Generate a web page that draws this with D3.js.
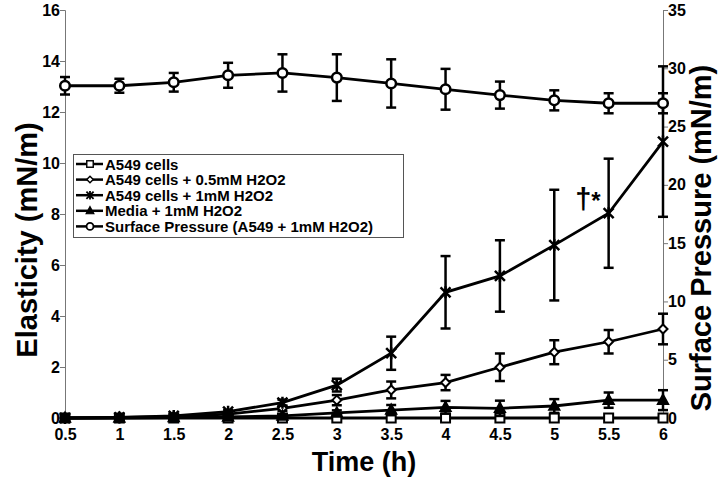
<!DOCTYPE html>
<html><head><meta charset="utf-8">
<script src="https://cdn.jsdelivr.net/npm/d3@7"></script>
<style>body{margin:0;background:#fff}svg{display:block}text{font-family:"Liberation Sans",Arial,Helvetica,sans-serif;font-weight:bold}</style>
</head><body><svg id="c" width="720" height="478"></svg>
<script>
const times = [0.5,1,1.5,2,2.5,3,3.5,4,4.5,5,5.5,6];
const xTicks = [0.5,1,1.5,2,2.5,3,3.5,4,4.5,5,5.5,6];
const yLeftTicks = [0,2,4,6,8,10,12,14,16];
const yRightTicks = [0,5,10,15,20,25,30,35];

const cellsVals = [0,0,0,0,0,0,0,0,0,0,0,0];
const cellsErr  = [0,0,0,0,0,0,0,0,0,0,0,0];
const h05Vals = [0,0.02,0.05,0.15,0.38,0.7,1.1,1.39,1.99,2.58,2.99,3.49];
const h05Err  = [0,0,0.02,0.05,0.1,0.2,0.33,0.3,0.54,0.47,0.46,0.6];
const h1Vals = [0,0.02,0.08,0.25,0.6,1.29,2.54,4.93,5.57,6.78,8.03,10.84];
const h1Err  = [0,0,0.03,0.06,0.12,0.25,0.65,1.42,1.4,2.17,2.14,2.95];
const mediaVals = [0,0,0.02,0.04,0.08,0.2,0.31,0.42,0.38,0.47,0.7,0.7];
const mediaErr  = [0,0,0,0.02,0.04,0.1,0.2,0.25,0.3,0.27,0.3,0.39];
const spVals = [28.5,28.5,28.8,29.4,29.6,29.2,28.7,28.2,27.7,27.25,27.0,27.0];
const spErr  = [0.75,0.6,0.8,1.07,1.6,2.0,2.07,1.75,1.16,0.86,0.86,0.86];

const legendLabels = ["A549 cells","A549 cells + 0.5mM H2O2","A549 cells + 1mM H2O2","Media + 1mM H2O2","Surface Pressure (A549 + 1mM H2O2)"];

const svg = d3.select("#c");
const x = d3.scaleLinear().domain([0.5,6]).range([65,663]);
const yL = d3.scaleLinear().domain([0,16]).range([418,10]);
const yR = d3.scaleLinear().domain([0,35]).range([418,10]);

// axes
const axL = svg.append("g").attr("transform","translate(65,0)").call(d3.axisLeft(yL).tickValues(yLeftTicks).tickSize(5).tickFormat(d3.format("d")));
const axR = svg.append("g").attr("transform","translate(663,0)").call(d3.axisRight(yR).tickValues(yRightTicks).tickSize(5).tickFormat(d3.format("d")));
const axB = svg.append("g").attr("transform","translate(0,418)").call(d3.axisBottom(x).tickValues(xTicks).tickSize(0).tickFormat(d=>String(d)));
[axL,axR,axB].forEach(a=>{
  a.select(".domain").attr("stroke","#777").attr("stroke-width",1);
  a.selectAll(".tick line").attr("stroke","#777");
  a.selectAll("text").attr("font-size",16).attr("fill","#000").style("font-family","Liberation Sans, Arial, sans-serif").style("font-weight","bold");
});
axB.select(".domain").attr("stroke","none");
axL.selectAll("text").attr("x",-5);
axR.selectAll("text").attr("x",5);
axB.selectAll("text").attr("y",11);

// titles
svg.append("text").attr("transform","translate(37,240) rotate(-90)").attr("text-anchor","middle").attr("font-size",29).text("Elasticity (mN/m)");
svg.append("text").attr("transform","translate(711,238) rotate(-90)").attr("text-anchor","middle").attr("font-size",29).text("Surface Pressure (mN/m)");
svg.append("text").attr("x",364).attr("y",471).attr("text-anchor","middle").attr("font-size",27).text("Time (h)");

// marker symbols
function marker(g, type, cx, cy, k){
  k = k||1;
  const s = g.append("g").attr("transform",`translate(${cx},${cy}) scale(${k})`);
  if(type==="square") s.append("rect").attr("x",-4.5).attr("y",-4.5).attr("width",9).attr("height",9).attr("fill","#fff").attr("stroke","#000").attr("stroke-width",2);
  else if(type==="diamond") s.append("path").attr("d","M0,-4.5L4.5,0L0,4.5L-4.5,0Z").attr("fill","#fff").attr("stroke","#000").attr("stroke-width",2);
  else if(type==="star"){ s.append("path").attr("d","M-5,-5L5,5M-5,5L5,-5M0,-6L0,6").attr("stroke","#000").attr("stroke-width",2.5); }
  else if(type==="triangle") s.append("path").attr("d","M0,-6L5.5,4L-5.5,4Z").attr("fill","#000").attr("stroke","#000").attr("stroke-width",1.5);
  else if(type==="circle") s.append("circle").attr("r",4.8).attr("fill","#fff").attr("stroke","#000").attr("stroke-width",2.5);
}

function series(vals, errs, yS, type){
  const g = svg.append("g");
  const pts = times.map((t,i)=>({t,v:vals[i],e:errs[i]}));
  pts.forEach(p=>{
    if(p.e<=0) return;
    const cx=x(p.t), y1=yS(p.v+p.e), y2=yS(p.v-p.e);
    g.append("line").attr("x1",cx).attr("x2",cx).attr("y1",y1).attr("y2",y2).attr("stroke","#000").attr("stroke-width",2.5);
    [y1,y2].forEach(yy=>g.append("line").attr("x1",cx-5).attr("x2",cx+5).attr("y1",yy).attr("y2",yy).attr("stroke","#000").attr("stroke-width",2.5));
  });
  g.append("path").datum(pts).attr("fill","none").attr("stroke","#000").attr("stroke-width",2.8)
    .attr("d",d3.line().x(p=>x(p.t)).y(p=>yS(p.v)));
  pts.forEach(p=>marker(g,type,x(p.t),yS(p.v)));
}

series(cellsVals, cellsErr, yL, "square");
series(h05Vals, h05Err, yL, "diamond");
series(h1Vals, h1Err, yL, "star");
series(mediaVals, mediaErr, yL, "triangle");
series(spVals, spErr, yR, "circle");

// annotation
const ann = svg.append("text").attr("x",x(5.5)-8).attr("y",yL(8.03)-4).attr("text-anchor","end");
ann.append("tspan").attr("font-size",29).text("†");
ann.append("tspan").attr("font-size",24).text("*");

// legend
const lg = svg.append("g");
lg.append("rect").attr("x",73.5).attr("y",154.5).attr("width",330).attr("height",83).attr("fill","#fff").attr("stroke","#555").attr("stroke-width",1);
const types = ["square","diamond","star","triangle","circle"];
legendLabels.forEach((lab,i)=>{
  const yy = 164 + i*15.6;
  lg.append("line").attr("x1",76).attr("x2",103).attr("y1",yy).attr("y2",yy).attr("stroke","#000").attr("stroke-width",2.5);
  marker(lg, types[i], 90, yy, 0.72);
  lg.append("text").attr("x",105).attr("y",yy+5.5).attr("font-size",15).text(lab);
});
</script></body></html>
